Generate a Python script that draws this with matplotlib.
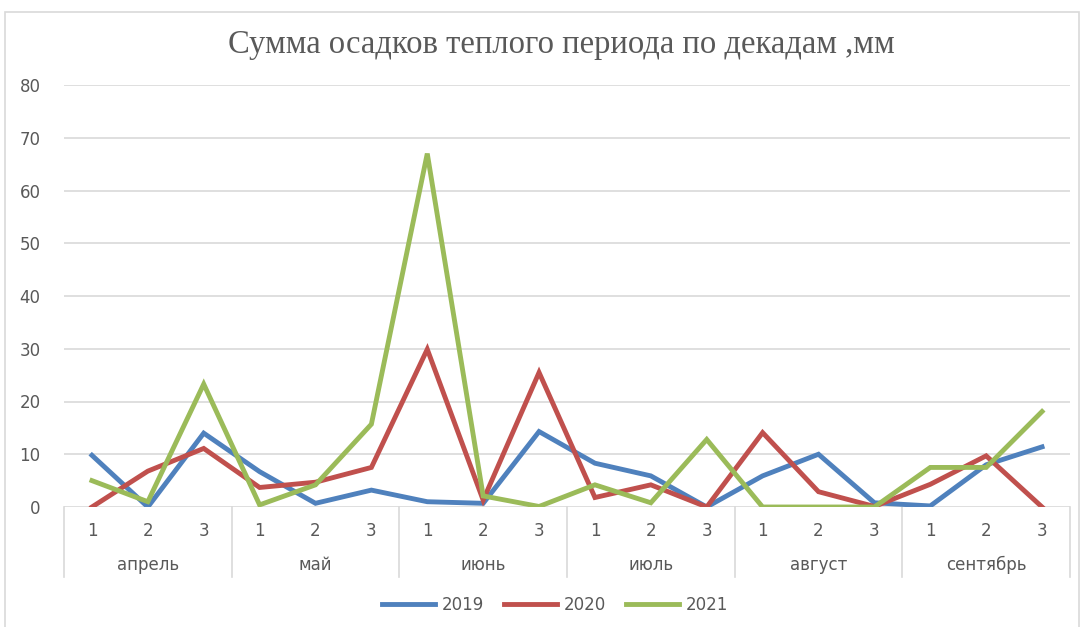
import matplotlib.pyplot as plt
from matplotlib.patches import Rectangle
import matplotlib.transforms as mtransforms

months = ["апрель", "май", "июнь", "июль", "август", "сентябрь"]
decades = ["1", "2", "3"]

p2019 = [9.8, 0.0, 14.0, 6.7, 0.7, 3.2, 1.0, 0.7, 14.3, 8.3, 5.9, 0.0, 5.9, 10.0, 0.8, 0.2, 8.0, 11.4]
p2020 = [0.0, 6.8, 11.1, 3.7, 4.7, 7.5, 29.9, 1.3, 25.5, 1.8, 4.2, 0.0, 14.1, 2.9, 0.1, 4.3, 9.7, 0.0]
p2021 = [5.0, 1.0, 23.3, 0.4, 4.2, 15.7, 67.0, 2.1, 0.1, 4.2, 0.8, 12.8, 0.0, 0.0, 0.0, 7.5, 7.5, 18.1]

series = [("2019", p2019, "#4F81BD"), ("2020", p2020, "#C0504D"), ("2021", p2021, "#9BBB59")]

W, H = 1084, 627
fig = plt.figure(figsize=(W / 100, H / 100), dpi=100)
fig.patch.set_facecolor("white")

# outer chart border
fig.patches.append(Rectangle((5 / W, -0.05), 1074 / W, 1.05 - 12 / H, transform=fig.transFigure,
                             fill=False, edgecolor="#d9d9d9", lw=1.2))

ax = fig.add_axes([64 / W, 1 - 507 / H, (1070 - 64) / W, (507 - 85) / H])
label_font = ["Liberation Sans Narrow", "DejaVu Sans"]
grey = "#595959"

x = list(range(len(p2019)))
for name, vals, col in series:
    ax.plot(x, vals, color=col, lw=3.5, label=name, solid_joinstyle="miter", zorder=3)

ax.set_xlim(-0.5, len(x) - 0.5)
ax.set_ylim(0, 80)
ax.set_yticks(range(0, 81, 10))
ax.grid(axis="y", color="#d9d9d9", lw=1.2)
ax.set_axisbelow(True)
for s in ax.spines.values():
    s.set_visible(False)

ax.set_xticks(x)
ax.set_xticklabels(decades * len(months), family=label_font, fontsize=12, color=grey)
ax.tick_params(axis="x", length=0, pad=11)
ax.tick_params(axis="y", length=0, pad=17, labelcolor=grey)
for lab in ax.get_yticklabels():
    lab.set_family(label_font)
    lab.set_fontsize(12)

# month separators and labels below the axis
trans = mtransforms.blended_transform_factory(ax.transData, ax.transAxes)
depth = (577 - 507) / (507 - 85)
for i in range(len(months) + 1):
    ax.plot([i * 3 - 0.5] * 2, [0, -depth], transform=trans, color="#d9d9d9", lw=1.2, clip_on=False)
for i, m in enumerate(months):
    ax.text(i * 3 + 1, -(565 - 507) / (507 - 85), m, transform=trans, ha="center", va="center",
            family=label_font, fontsize=12, color=grey)

fig.text(561 / W, 1 - 45 / H, "Сумма осадков теплого периода по декадам ,мм", ha="center", va="center",
         family=["Liberation Serif", "DejaVu Serif"], fontsize=23.5, color=grey)

fig.legend(loc="center", bbox_to_anchor=(555 / W, 1 - 605 / H), ncol=3, frameon=False,
           handlelength=3.2, columnspacing=1.2, handletextpad=0.4,
           prop={"family": label_font, "size": 12}, labelcolor=grey)

fig.savefig("out.png", dpi=100)
